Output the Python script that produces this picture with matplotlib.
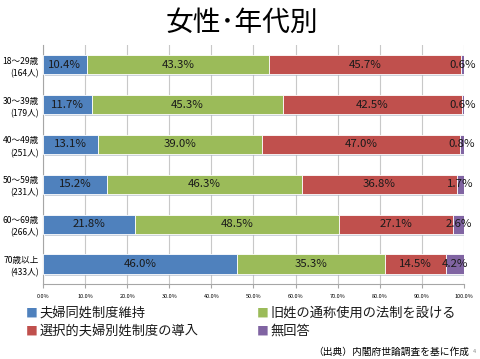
import matplotlib
matplotlib.use("Agg")
import matplotlib.pyplot as plt
import matplotlib.patheffects as pe
import numpy as np

plt.rcParams['font.family'] = ['Noto Sans CJK JP', 'DejaVu Sans']

categories = ["18～29歳\n(164人)", "30～39歳\n(179人)", "40～49歳\n(251人)",
              "50～59歳\n(231人)", "60～69歳\n(266人)", "70歳以上\n(433人)"]
series_names = ["夫婦同姓制度維持", "旧姓の通称使用の法制を設ける",
                "選択的夫婦別姓制度の導入", "無回答"]
same_name = [10.4, 11.7, 13.1, 15.2, 21.8, 46.0]
old_name = [43.3, 45.3, 39.0, 46.3, 48.5, 35.3]
separate = [45.7, 42.5, 47.0, 36.8, 27.1, 14.5]
no_answer = [0.6, 0.6, 0.8, 1.7, 2.6, 4.2]
xticks = [0, 10, 20, 30, 40, 50, 60, 70, 80, 90, 100]
colors = ["#4F81BD", "#9BBB59", "#C0504D", "#8064A2"]

fig = plt.figure(figsize=(4.8, 3.59), dpi=100)
ax = fig.add_axes([0.0896, 0.209, 0.877, 0.666])

y = np.arange(len(categories))
data = [same_name, old_name, separate, no_answer]
left = np.zeros(len(categories))
for vals, col in zip(data, colors):
    vals = np.array(vals)
    bars = ax.barh(y, vals, left=left, height=0.48, color=col,
                   edgecolor="white", linewidth=0.6, zorder=3)
    for b in bars:
        b.set_path_effects([pe.SimplePatchShadow(offset=(1.2, -1.5), shadow_rgbFace="#a9b4c4", alpha=0.6), pe.Normal()])
    for yi, l, v in zip(y, left, vals):
        ax.text(l + v / 2, yi, f"{v:.1f}%", ha="center", va="center",
                fontsize=8.2, color="#1a1a1a", zorder=5)
    left = left + vals

ax.set_xlim(0, 100)
ax.set_ylim(len(categories) - 0.5, -0.5)
ax.set_yticks(y)
ax.set_yticklabels(categories, fontsize=6.2, linespacing=1.45)
ax.set_xticks(xticks)
ax.set_xticklabels([f"{t:.1f}%" for t in xticks], fontsize=4)
ax.tick_params(axis="y", length=0, pad=3)
ax.tick_params(axis="x", length=3, color="#a6a6a6", pad=4)
ax.grid(axis="x", color="#c8c8c8", linewidth=0.8, zorder=0)
for s in ["top", "right"]:
    ax.spines[s].set_visible(False)
for s in ["left", "bottom"]:
    ax.spines[s].set_color("#a6a6a6")
    ax.spines[s].set_linewidth(0.8)

fig.text(0.503, 0.935, "女性･年代別", ha="center", va="center", fontsize=20)

leg_pos = [(0.054, 0.128), (0.535, 0.128), (0.054, 0.077), (0.535, 0.077)]
for (lx, ly), name, col in zip(leg_pos, series_names, colors):
    fig.text(lx, ly, "■", color=col, fontsize=8.5, va="center", ha="left")
    fig.text(lx + 0.029, ly, name, fontsize=9.5, va="center", ha="left", color="#1a1a1a")

fig.text(0.977, 0.02, "（出典）内閣府世論調査を基に作成", ha="right", va="center", fontsize=7)
fig.text(0.992, 0.02, "4", ha="right", va="center", fontsize=4, color="#888888")

fig.savefig("out.png", dpi=100)
